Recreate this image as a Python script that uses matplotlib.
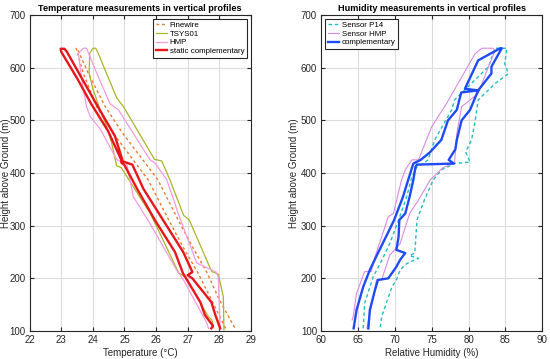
import matplotlib.pyplot as plt

plt.rcParams['font.family'] = ['Liberation Sans', 'DejaVu Sans']

# --- Temperature profiles (height m, temperature °C), ascent and descent branches ---
fw_h = [105, 160, 210, 260, 311, 387, 475, 526, 589, 637]
fw_up = [28.2, 27.75, 27.33, 26.85, 26.4, 25.75, 24.65, 24.12, 23.7, 23.47]
fw_down = [28.5, 28.0, 27.62, 27.15, 26.7, 26.06, 24.95, 24.39, 23.86, 23.5]

ts_h1 = [106, 121, 127, 203, 210, 292, 324, 410, 414, 456, 488, 520, 560, 590, 627, 637]
ts_t1 = [27.82, 27.77, 27.66, 26.92, 26.72, 26.07, 25.81, 24.9, 24.75, 24.6, 24.44, 24.23, 24.0, 23.88, 23.9, 24.0]
ts_h2 = [102, 165, 208, 213, 311, 320, 387, 423, 426, 526, 542, 630, 637]
ts_t2 = [28.15, 28.13, 27.97, 27.76, 27.05, 26.87, 26.44, 26.18, 25.95, 24.97, 24.76, 24.15, 24.09]

hmp_h1 = [105, 115, 197, 215, 305, 355, 418, 425, 482, 508, 526, 577, 627, 637]
hmp_t1 = [27.66, 27.61, 26.87, 26.66, 25.8, 25.28, 25.07, 24.76, 24.25, 23.91, 23.8, 23.65, 23.54, 23.7]
hmp_h2 = [102, 203, 212, 216, 229, 323, 342, 387, 419, 425, 520, 532, 600, 637]
hmp_t2 = [28.03, 27.97, 27.9, 27.76, 27.29, 26.7, 26.6, 26.34, 25.97, 25.81, 24.81, 24.54, 24.05, 23.8]

sc_h1 = [105, 110, 130, 155, 200, 210, 250, 310, 370, 415, 420, 425, 480, 530, 580, 630, 636]
sc_t1 = [27.75, 27.8, 27.55, 27.4, 26.95, 26.85, 26.6, 25.97, 25.4, 25.0, 24.9, 24.9, 24.48, 23.96, 23.5, 23.0, 22.98]
sc_h2 = [105, 130, 155, 200, 206, 212, 250, 310, 370, 416, 422, 470, 530, 580, 630, 636]
sc_t2 = [28.03, 27.88, 27.75, 27.15, 27.0, 27.15, 26.86, 26.23, 25.6, 25.25, 24.95, 24.7, 24.12, 23.65, 23.18, 23.1]

# --- Humidity profiles (height m, RH %) ---
p14_h1 = [105, 153, 203, 228, 266, 311, 355, 393, 412, 418, 425, 463, 520, 539, 602, 637]
p14_r1 = [65.7, 65.9, 67.06, 68.0, 69.3, 70.5, 71.6, 72.3, 73.0, 73.8, 74.5, 75.4, 77.7, 78.1, 82.7, 83.6]
p14_h2 = [105, 127, 184, 197, 216, 228, 238, 243, 248, 311, 349, 387, 406, 418, 421, 440, 463, 500, 539, 570, 589, 608, 637]
p14_r2 = [68.0, 68.2, 69.6, 70.2, 70.7, 71.6, 73.2, 72.0, 72.7, 73.0, 74.0, 75.2, 76.3, 78.1, 80.2, 79.6, 80.4, 80.9, 81.3, 83.6, 85.4, 84.9, 85.2]

hh_h1 = [121, 127, 172, 213, 213, 241, 317, 323, 387, 406, 425, 425, 488, 532, 627, 637]
hh_r1 = [64.2, 64.34, 64.8, 65.9, 66.8, 67.3, 69.1, 69.8, 70.9, 71.4, 72.3, 73.2, 75.0, 77.0, 80.9, 81.8]
hh_h2 = [105, 146, 197, 197, 244, 266, 323, 349, 387, 410, 420, 475, 526, 551, 602, 633, 637]
hh_r2 = [66.2, 66.8, 67.5, 68.2, 69.3, 70.7, 72.0, 73.2, 74.8, 76.5, 78.1, 78.4, 79.05, 81.3, 82.7, 83.6, 83.3]

cp_h1 = [105, 140, 184, 216, 248, 285, 311, 355, 387, 418, 425, 440, 463, 500, 520, 553, 557, 560, 602, 614, 637]
cp_r1 = [64.4, 64.8, 65.7, 66.6, 67.7, 69.0, 69.9, 71.1, 71.8, 72.5, 73.5, 74.8, 76.3, 77.2, 78.4, 79.0, 81.3, 79.5, 80.9, 81.3, 84.3]
cp_h2 = [105, 140, 178, 197, 200, 222, 235, 248, 254, 279, 311, 323, 355, 387, 412, 416, 418, 425, 445, 463, 500, 520, 557, 589, 602, 637]
cp_r2 = [66.4, 66.6, 67.3, 67.7, 69.1, 70.2, 70.7, 71.4, 70.2, 70.5, 70.6, 71.4, 72.0, 72.5, 72.8, 73.0, 78.0, 77.3, 78.2, 78.4, 79.05, 80.2, 81.3, 83.1, 83.1, 84.5]


def loop(x1, h1, x2, h2):
    # ascent then descent joined at the top
    return list(x1) + list(x2)[::-1], list(h1) + list(h2)[::-1]


def style_axes(ax, title, xlabel, ylabel_x):
    ax.set_ylim(100, 700)
    ax.set_yticks(range(100, 701, 100))
    ax.grid(True, color='#dcdcdc', linewidth=0.8)
    ax.set_axisbelow(True)
    ax.tick_params(direction='in', top=True, right=True, length=3, labelsize=7, colors='#262626', pad=3)
    for s in ax.spines.values():
        s.set_linewidth(0.8)
        s.set_color('#262626')
    ax.set_title(title, fontsize=6.6, fontweight='bold', pad=3)
    ax.set_xlabel(xlabel, fontsize=7, color='#262626', labelpad=2)
    ax.set_ylabel('Height above Ground (m)', fontsize=7, color='#262626')
    ax.yaxis.set_label_coords(ylabel_x, 0.5)


def add_legend(ax, loc):
    leg = ax.legend(loc=loc, fontsize=5.7, handlelength=1.5, handletextpad=0.3,
                    labelspacing=0.15, borderpad=0.3, borderaxespad=0.5, fancybox=False,
                    framealpha=1, edgecolor='#262626')
    leg.get_frame().set_linewidth(0.8)


fig = plt.figure(figsize=(5.5, 3.59), dpi=100)
ax1 = fig.add_axes([0.054, 0.078, 0.402, 0.880])
ax2 = fig.add_axes([0.584, 0.078, 0.402, 0.880])

x, y = loop(fw_up, fw_h, fw_down, fw_h)
ax1.plot(x, y, color='#EE7A2C', linestyle=(0, (2, 2)), linewidth=1.0, label='Finewire')
x, y = loop(ts_t1, ts_h1, ts_t2, ts_h2)
ax1.plot(x, y, color='#A8B526', linewidth=0.9, label='TSYS01')
x, y = loop(hmp_t1, hmp_h1, hmp_t2, hmp_h2)
ax1.plot(x, y, color='#F59BDD', linewidth=0.9, label='HMP')
x, y = loop(sc_t1, sc_h1, sc_t2, sc_h2)
ax1.plot(x, y, color='#E8151B', linewidth=1.7, label='static complementary')
ax1.set_xlim(22, 29)
ax1.set_xticks(range(22, 30))
style_axes(ax1, 'Temperature measurements in vertical profiles', 'Temperature (°C)', -0.085)
add_legend(ax1, 'upper right')

x, y = loop(p14_r1, p14_h1, p14_r2, p14_h2)
ax2.plot(x, y, color='#22BDBD', linestyle=(0, (2.5, 2)), linewidth=1.0, label='Sensor P14')
x, y = loop(hh_r1, hh_h1, hh_r2, hh_h2)
ax2.plot(x, y, color='#D98BE3', linewidth=0.8, label='Sensor HMP')
x, y = loop(cp_r1, cp_h1, cp_r2, cp_h2)
ax2.plot(x, y, color='#1F4BF5', linewidth=1.7, label='complementary')
ax2.set_xlim(60, 90)
ax2.set_xticks(range(60, 91, 5))
style_axes(ax2, 'Humidity measurements in vertical profiles', 'Relative Humidity (%)', -0.1)
add_legend(ax2, 'upper left')

fig.savefig('out.png', dpi=100)
